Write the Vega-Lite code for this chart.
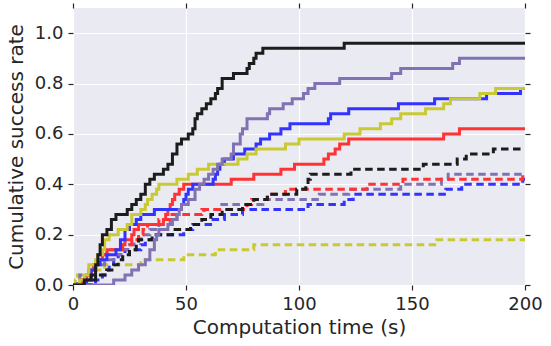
{
  "$schema": "https://vega.github.io/schema/vega-lite/v6.json",
  "width": 452,
  "height": 277,
  "autosize": {"type": "none"},
  "padding": {"left": 73, "top": 8, "right": 26, "bottom": 61},
  "background": "white",
  "config": {
    "view": {"fill": "#EAEAF2", "stroke": null},
    "font": "DejaVu Sans",
    "axis": {
      "domain": false,
      "gridColor": "white",
      "gridWidth": 1.2,
      "tickColor": "#262626",
      "tickSize": 5,
      "tickWidth": 1.2,
      "labelFont": "DejaVu Sans",
      "labelFontSize": 18,
      "labelColor": "#262626",
      "labelPadding": 5,
      "titleFont": "DejaVu Sans",
      "titleFontSize": 20,
      "titleFontWeight": "normal",
      "titleColor": "#262626"
    }
  },
  "data": {"values": [
    {"m":"M4","v":"secondary","t":0,"r":0},{"m":"M4","v":"secondary","t":10,"r":0.02},{"m":"M4","v":"secondary","t":13,"r":0.04},{"m":"M4","v":"secondary","t":15,"r":0.06},{"m":"M4","v":"secondary","t":16,"r":0.08},{"m":"M4","v":"secondary","t":18,"r":0.1},{"m":"M4","v":"secondary","t":20,"r":0.12},{"m":"M4","v":"secondary","t":23,"r":0.14},{"m":"M4","v":"secondary","t":30,"r":0.16},{"m":"M4","v":"secondary","t":32,"r":0.18},{"m":"M4","v":"secondary","t":37,"r":0.2},{"m":"M4","v":"secondary","t":49,"r":0.22},{"m":"M4","v":"secondary","t":53,"r":0.24},{"m":"M4","v":"secondary","t":62,"r":0.26},{"m":"M4","v":"secondary","t":67,"r":0.28},{"m":"M4","v":"secondary","t":75,"r":0.3},{"m":"M4","v":"secondary","t":104,"r":0.32},{"m":"M4","v":"secondary","t":120,"r":0.34},{"m":"M4","v":"secondary","t":124,"r":0.36},{"m":"M4","v":"secondary","t":165,"r":0.38},{"m":"M4","v":"secondary","t":172,"r":0.4},{"m":"M4","v":"secondary","t":199,"r":0.42},{"m":"M4","v":"secondary","t":200,"r":0.42},
    {"m":"M3","v":"secondary","t":0,"r":0},{"m":"M3","v":"secondary","t":1,"r":0.02},{"m":"M3","v":"secondary","t":2,"r":0.04},{"m":"M3","v":"secondary","t":10,"r":0.06},{"m":"M3","v":"secondary","t":14,"r":0.08},{"m":"M3","v":"secondary","t":30,"r":0.1},{"m":"M3","v":"secondary","t":49,"r":0.12},{"m":"M3","v":"secondary","t":63,"r":0.14},{"m":"M3","v":"secondary","t":80,"r":0.16},{"m":"M3","v":"secondary","t":161,"r":0.18},{"m":"M3","v":"secondary","t":200,"r":0.18},
    {"m":"M2","v":"secondary","t":0,"r":0},{"m":"M2","v":"secondary","t":2,"r":0.02},{"m":"M2","v":"secondary","t":3,"r":0.04},{"m":"M2","v":"secondary","t":7,"r":0.06},{"m":"M2","v":"secondary","t":10,"r":0.08},{"m":"M2","v":"secondary","t":14,"r":0.1},{"m":"M2","v":"secondary","t":18,"r":0.12},{"m":"M2","v":"secondary","t":22,"r":0.14},{"m":"M2","v":"secondary","t":25,"r":0.16},{"m":"M2","v":"secondary","t":27,"r":0.18},{"m":"M2","v":"secondary","t":30,"r":0.2},{"m":"M2","v":"secondary","t":34,"r":0.22},{"m":"M2","v":"secondary","t":38,"r":0.24},{"m":"M2","v":"secondary","t":43,"r":0.26},{"m":"M2","v":"secondary","t":46,"r":0.28},{"m":"M2","v":"secondary","t":58,"r":0.3},{"m":"M2","v":"secondary","t":65,"r":0.32},{"m":"M2","v":"secondary","t":84,"r":0.34},{"m":"M2","v":"secondary","t":109,"r":0.36},{"m":"M2","v":"secondary","t":122,"r":0.38},{"m":"M2","v":"secondary","t":145,"r":0.4},{"m":"M2","v":"secondary","t":163,"r":0.42},{"m":"M2","v":"secondary","t":166,"r":0.44},{"m":"M2","v":"secondary","t":200,"r":0.44},
    {"m":"M5","v":"secondary","t":0,"r":0},{"m":"M5","v":"secondary","t":4,"r":0.02},{"m":"M5","v":"secondary","t":6,"r":0.04},{"m":"M5","v":"secondary","t":8,"r":0.06},{"m":"M5","v":"secondary","t":10,"r":0.1},{"m":"M5","v":"secondary","t":13,"r":0.12},{"m":"M5","v":"secondary","t":15,"r":0.14},{"m":"M5","v":"secondary","t":22,"r":0.16},{"m":"M5","v":"secondary","t":26,"r":0.18},{"m":"M5","v":"secondary","t":29,"r":0.2},{"m":"M5","v":"secondary","t":31,"r":0.22},{"m":"M5","v":"secondary","t":33,"r":0.24},{"m":"M5","v":"secondary","t":38,"r":0.26},{"m":"M5","v":"secondary","t":43,"r":0.28},{"m":"M5","v":"secondary","t":57,"r":0.3},{"m":"M5","v":"secondary","t":77,"r":0.32},{"m":"M5","v":"secondary","t":79,"r":0.34},{"m":"M5","v":"secondary","t":86,"r":0.36},{"m":"M5","v":"secondary","t":94,"r":0.38},{"m":"M5","v":"secondary","t":130,"r":0.4},{"m":"M5","v":"secondary","t":146,"r":0.42},{"m":"M5","v":"secondary","t":199,"r":0.44},{"m":"M5","v":"secondary","t":200,"r":0.44},
    {"m":"M1","v":"secondary","t":0,"r":0},{"m":"M1","v":"secondary","t":8,"r":0.02},{"m":"M1","v":"secondary","t":10,"r":0.04},{"m":"M1","v":"secondary","t":15,"r":0.06},{"m":"M1","v":"secondary","t":18,"r":0.08},{"m":"M1","v":"secondary","t":20,"r":0.1},{"m":"M1","v":"secondary","t":22,"r":0.12},{"m":"M1","v":"secondary","t":25,"r":0.14},{"m":"M1","v":"secondary","t":28,"r":0.16},{"m":"M1","v":"secondary","t":29,"r":0.18},{"m":"M1","v":"secondary","t":35,"r":0.2},{"m":"M1","v":"secondary","t":44,"r":0.22},{"m":"M1","v":"secondary","t":52,"r":0.24},{"m":"M1","v":"secondary","t":57,"r":0.26},{"m":"M1","v":"secondary","t":61,"r":0.28},{"m":"M1","v":"secondary","t":66,"r":0.3},{"m":"M1","v":"secondary","t":75,"r":0.32},{"m":"M1","v":"secondary","t":80,"r":0.34},{"m":"M1","v":"secondary","t":86,"r":0.36},{"m":"M1","v":"secondary","t":99,"r":0.38},{"m":"M1","v":"secondary","t":103,"r":0.4},{"m":"M1","v":"secondary","t":104,"r":0.42},{"m":"M1","v":"secondary","t":105,"r":0.44},{"m":"M1","v":"secondary","t":123,"r":0.46},{"m":"M1","v":"secondary","t":155,"r":0.48},{"m":"M1","v":"secondary","t":170,"r":0.5},{"m":"M1","v":"secondary","t":174,"r":0.52},{"m":"M1","v":"secondary","t":186,"r":0.54},{"m":"M1","v":"secondary","t":200,"r":0.54},
    {"m":"M5","v":"primary","t":0,"r":0},{"m":"M5","v":"primary","t":4,"r":0.02},{"m":"M5","v":"primary","t":6,"r":0.04},{"m":"M5","v":"primary","t":8,"r":0.06},{"m":"M5","v":"primary","t":9,"r":0.08},{"m":"M5","v":"primary","t":11,"r":0.1},{"m":"M5","v":"primary","t":13,"r":0.12},{"m":"M5","v":"primary","t":15,"r":0.14},{"m":"M5","v":"primary","t":21,"r":0.16},{"m":"M5","v":"primary","t":23,"r":0.18},{"m":"M5","v":"primary","t":26,"r":0.2},{"m":"M5","v":"primary","t":27,"r":0.22},{"m":"M5","v":"primary","t":29,"r":0.24},{"m":"M5","v":"primary","t":40,"r":0.26},{"m":"M5","v":"primary","t":41,"r":0.28},{"m":"M5","v":"primary","t":42,"r":0.3},{"m":"M5","v":"primary","t":43,"r":0.32},{"m":"M5","v":"primary","t":44,"r":0.34},{"m":"M5","v":"primary","t":45,"r":0.36},{"m":"M5","v":"primary","t":47,"r":0.38},{"m":"M5","v":"primary","t":49,"r":0.4},{"m":"M5","v":"primary","t":70,"r":0.42},{"m":"M5","v":"primary","t":80,"r":0.44},{"m":"M5","v":"primary","t":92,"r":0.46},{"m":"M5","v":"primary","t":98,"r":0.48},{"m":"M5","v":"primary","t":111,"r":0.5},{"m":"M5","v":"primary","t":113,"r":0.52},{"m":"M5","v":"primary","t":116,"r":0.54},{"m":"M5","v":"primary","t":118,"r":0.56},{"m":"M5","v":"primary","t":122,"r":0.58},{"m":"M5","v":"primary","t":164,"r":0.6},{"m":"M5","v":"primary","t":171,"r":0.62},{"m":"M5","v":"primary","t":200,"r":0.62},
    {"m":"M4","v":"primary","t":0,"r":0},{"m":"M4","v":"primary","t":6,"r":0.02},{"m":"M4","v":"primary","t":8,"r":0.06},{"m":"M4","v":"primary","t":10,"r":0.08},{"m":"M4","v":"primary","t":12,"r":0.1},{"m":"M4","v":"primary","t":15,"r":0.12},{"m":"M4","v":"primary","t":19,"r":0.14},{"m":"M4","v":"primary","t":21,"r":0.18},{"m":"M4","v":"primary","t":23,"r":0.22},{"m":"M4","v":"primary","t":25,"r":0.24},{"m":"M4","v":"primary","t":28,"r":0.26},{"m":"M4","v":"primary","t":30,"r":0.28},{"m":"M4","v":"primary","t":36,"r":0.3},{"m":"M4","v":"primary","t":48,"r":0.32},{"m":"M4","v":"primary","t":49,"r":0.34},{"m":"M4","v":"primary","t":50,"r":0.36},{"m":"M4","v":"primary","t":51,"r":0.38},{"m":"M4","v":"primary","t":53,"r":0.4},{"m":"M4","v":"primary","t":62,"r":0.42},{"m":"M4","v":"primary","t":63,"r":0.44},{"m":"M4","v":"primary","t":64,"r":0.46},{"m":"M4","v":"primary","t":65,"r":0.48},{"m":"M4","v":"primary","t":67,"r":0.5},{"m":"M4","v":"primary","t":71,"r":0.52},{"m":"M4","v":"primary","t":76,"r":0.54},{"m":"M4","v":"primary","t":81,"r":0.56},{"m":"M4","v":"primary","t":83,"r":0.58},{"m":"M4","v":"primary","t":87,"r":0.6},{"m":"M4","v":"primary","t":92,"r":0.62},{"m":"M4","v":"primary","t":96,"r":0.64},{"m":"M4","v":"primary","t":113,"r":0.66},{"m":"M4","v":"primary","t":114,"r":0.68},{"m":"M4","v":"primary","t":122,"r":0.7},{"m":"M4","v":"primary","t":144,"r":0.72},{"m":"M4","v":"primary","t":160,"r":0.74},{"m":"M4","v":"primary","t":183,"r":0.76},{"m":"M4","v":"primary","t":198,"r":0.78},{"m":"M4","v":"primary","t":200,"r":0.78},
    {"m":"M3","v":"primary","t":0,"r":0},{"m":"M3","v":"primary","t":3,"r":0.02},{"m":"M3","v":"primary","t":5,"r":0.04},{"m":"M3","v":"primary","t":7,"r":0.08},{"m":"M3","v":"primary","t":10,"r":0.1},{"m":"M3","v":"primary","t":11,"r":0.12},{"m":"M3","v":"primary","t":13,"r":0.14},{"m":"M3","v":"primary","t":14,"r":0.18},{"m":"M3","v":"primary","t":16,"r":0.2},{"m":"M3","v":"primary","t":20,"r":0.22},{"m":"M3","v":"primary","t":24,"r":0.24},{"m":"M3","v":"primary","t":26,"r":0.28},{"m":"M3","v":"primary","t":30,"r":0.3},{"m":"M3","v":"primary","t":32,"r":0.32},{"m":"M3","v":"primary","t":33,"r":0.34},{"m":"M3","v":"primary","t":35,"r":0.36},{"m":"M3","v":"primary","t":37,"r":0.38},{"m":"M3","v":"primary","t":38,"r":0.4},{"m":"M3","v":"primary","t":46,"r":0.42},{"m":"M3","v":"primary","t":51,"r":0.44},{"m":"M3","v":"primary","t":55,"r":0.46},{"m":"M3","v":"primary","t":60,"r":0.48},{"m":"M3","v":"primary","t":73,"r":0.5},{"m":"M3","v":"primary","t":77,"r":0.52},{"m":"M3","v":"primary","t":81,"r":0.54},{"m":"M3","v":"primary","t":94,"r":0.56},{"m":"M3","v":"primary","t":100,"r":0.58},{"m":"M3","v":"primary","t":120,"r":0.6},{"m":"M3","v":"primary","t":127,"r":0.62},{"m":"M3","v":"primary","t":136,"r":0.64},{"m":"M3","v":"primary","t":141,"r":0.66},{"m":"M3","v":"primary","t":145,"r":0.68},{"m":"M3","v":"primary","t":156,"r":0.7},{"m":"M3","v":"primary","t":164,"r":0.72},{"m":"M3","v":"primary","t":167,"r":0.74},{"m":"M3","v":"primary","t":180,"r":0.76},{"m":"M3","v":"primary","t":187,"r":0.78},{"m":"M3","v":"primary","t":200,"r":0.78},
    {"m":"M2","v":"primary","t":0,"r":0},{"m":"M2","v":"primary","t":18,"r":0.02},{"m":"M2","v":"primary","t":23,"r":0.04},{"m":"M2","v":"primary","t":26,"r":0.06},{"m":"M2","v":"primary","t":29,"r":0.08},{"m":"M2","v":"primary","t":32,"r":0.1},{"m":"M2","v":"primary","t":34,"r":0.14},{"m":"M2","v":"primary","t":36,"r":0.18},{"m":"M2","v":"primary","t":37,"r":0.2},{"m":"M2","v":"primary","t":38,"r":0.22},{"m":"M2","v":"primary","t":42,"r":0.24},{"m":"M2","v":"primary","t":44,"r":0.26},{"m":"M2","v":"primary","t":46,"r":0.28},{"m":"M2","v":"primary","t":47,"r":0.3},{"m":"M2","v":"primary","t":48,"r":0.32},{"m":"M2","v":"primary","t":51,"r":0.34},{"m":"M2","v":"primary","t":54,"r":0.38},{"m":"M2","v":"primary","t":56,"r":0.4},{"m":"M2","v":"primary","t":58,"r":0.42},{"m":"M2","v":"primary","t":60,"r":0.44},{"m":"M2","v":"primary","t":62,"r":0.46},{"m":"M2","v":"primary","t":64,"r":0.48},{"m":"M2","v":"primary","t":66,"r":0.5},{"m":"M2","v":"primary","t":70,"r":0.52},{"m":"M2","v":"primary","t":71,"r":0.56},{"m":"M2","v":"primary","t":74,"r":0.6},{"m":"M2","v":"primary","t":75,"r":0.62},{"m":"M2","v":"primary","t":77,"r":0.66},{"m":"M2","v":"primary","t":86,"r":0.68},{"m":"M2","v":"primary","t":87,"r":0.7},{"m":"M2","v":"primary","t":93,"r":0.72},{"m":"M2","v":"primary","t":97,"r":0.74},{"m":"M2","v":"primary","t":102,"r":0.76},{"m":"M2","v":"primary","t":104,"r":0.78},{"m":"M2","v":"primary","t":107,"r":0.8},{"m":"M2","v":"primary","t":118,"r":0.82},{"m":"M2","v":"primary","t":141,"r":0.84},{"m":"M2","v":"primary","t":145,"r":0.86},{"m":"M2","v":"primary","t":168,"r":0.88},{"m":"M2","v":"primary","t":171,"r":0.9},{"m":"M2","v":"primary","t":200,"r":0.9},
    {"m":"M1","v":"primary","t":0,"r":0},{"m":"M1","v":"primary","t":5,"r":0.02},{"m":"M1","v":"primary","t":8,"r":0.04},{"m":"M1","v":"primary","t":10,"r":0.08},{"m":"M1","v":"primary","t":11,"r":0.12},{"m":"M1","v":"primary","t":12,"r":0.16},{"m":"M1","v":"primary","t":13,"r":0.2},{"m":"M1","v":"primary","t":15,"r":0.22},{"m":"M1","v":"primary","t":17,"r":0.26},{"m":"M1","v":"primary","t":19,"r":0.28},{"m":"M1","v":"primary","t":24,"r":0.3},{"m":"M1","v":"primary","t":26,"r":0.32},{"m":"M1","v":"primary","t":28,"r":0.34},{"m":"M1","v":"primary","t":30,"r":0.36},{"m":"M1","v":"primary","t":32,"r":0.4},{"m":"M1","v":"primary","t":34,"r":0.42},{"m":"M1","v":"primary","t":36,"r":0.44},{"m":"M1","v":"primary","t":40,"r":0.46},{"m":"M1","v":"primary","t":42,"r":0.48},{"m":"M1","v":"primary","t":44,"r":0.52},{"m":"M1","v":"primary","t":46,"r":0.56},{"m":"M1","v":"primary","t":48,"r":0.58},{"m":"M1","v":"primary","t":51,"r":0.6},{"m":"M1","v":"primary","t":53,"r":0.62},{"m":"M1","v":"primary","t":54,"r":0.66},{"m":"M1","v":"primary","t":55,"r":0.68},{"m":"M1","v":"primary","t":57,"r":0.7},{"m":"M1","v":"primary","t":59,"r":0.72},{"m":"M1","v":"primary","t":61,"r":0.74},{"m":"M1","v":"primary","t":63,"r":0.76},{"m":"M1","v":"primary","t":64,"r":0.78},{"m":"M1","v":"primary","t":66,"r":0.82},{"m":"M1","v":"primary","t":71,"r":0.84},{"m":"M1","v":"primary","t":77,"r":0.86},{"m":"M1","v":"primary","t":78,"r":0.88},{"m":"M1","v":"primary","t":80,"r":0.9},{"m":"M1","v":"primary","t":81,"r":0.92},{"m":"M1","v":"primary","t":84,"r":0.94},{"m":"M1","v":"primary","t":120,"r":0.96},{"m":"M1","v":"primary","t":200,"r":0.96}
  ]},
  "layer": [
    {
      "mark": {"type": "line", "interpolate": "step-after", "strokeWidth": 3, "clip": true},
      "encoding": {
        "x": {"field": "t", "type": "quantitative", "scale": {"domain": [0, 200], "nice": false},
              "axis": {"values": [0, 50, 100, 150, 200], "format": "d", "labelFlush": false, "grid": true, "title": "Computation time (s)"}},
        "y": {"field": "r", "type": "quantitative", "scale": {"domain": [0, 1.1], "nice": false},
              "axis": {"values": [0, 0.2, 0.4, 0.6, 0.8, 1.0], "format": ".1f", "grid": true, "title": "Cumulative success rate", "titlePadding": 8}},
        "color": {"field": "m", "type": "nominal", "legend": null,
                  "scale": {"domain": ["M1", "M2", "M3", "M4", "M5"], "range": ["#1c1c1c", "#8172b3", "#c9c933", "#3333ff", "#ff3333"]}},
        "strokeDash": {"field": "v", "type": "nominal", "legend": null,
                       "scale": {"domain": ["primary", "secondary"], "range": [[1, 0], [7.5, 4.5]]}}
      }
    },
    {
      "mark": {"type": "point", "opacity": 0},
      "encoding": {
        "x": {"field": "t", "type": "quantitative", "axis": {"orient": "top", "values": [0, 50, 100, 150, 200], "labels": false, "grid": false, "title": null}},
        "y": {"field": "r", "type": "quantitative", "axis": {"orient": "right", "values": [0, 0.2, 0.4, 0.6, 0.8, 1.0], "labels": false, "grid": false, "title": null}}
      }
    }
  ],
  "resolve": {"axis": {"x": "independent", "y": "independent"}}
}
